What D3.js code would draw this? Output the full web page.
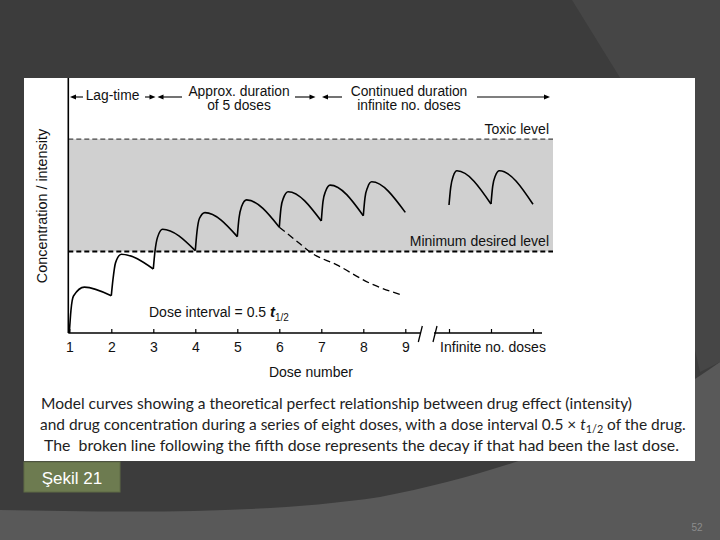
<!DOCTYPE html>
<html>
<head>
<meta charset="utf-8">
<script src="https://cdn.jsdelivr.net/npm/d3@7"></script>
<style>
html, body { margin: 0; padding: 0; background: #3c3c3c; }
svg { display: block; }
</style>
</head>
<body>
<div id="plot"></div>
<script>
// Dose numbers on the x axis
var doseTicks = [1, 2, 3, 4, 5, 6, 7, 8, 9];
// Concentration at the moment of each dose (troughs)
var troughConc = [0, 14.6, 25.1, 32.3, 37.8, 41.5, 43.9, 46.0, 47.3];
// Concentration 0.04 and 0.1 interval after each dose (the steep rise)
var riseConcA = [9, 21, 32, 39.7, 45, 49, 51.5, 53];
var riseConcB = [14.5, 27.5, 37.5, 45, 49.5, 53, 55.5, 57];
// Peak after each dose and when it happens (fraction of an interval)
var peakConc = [18, 30.9, 40.7, 47.2, 52.2, 55.4, 58, 59.3];
var peakAfter = [0.36, 0.24, 0.22, 0.23, 0.22, 0.21, 0.21, 0.2];
// Broken line: decay if the fifth dose had been the last one
var decayDose = [6, 6.5, 6.73, 7.37, 8.16, 8.91];
var decayConc = [41.5, 34.9, 31.8, 26.7, 19.5, 14.9];
// "Infinite no. doses" part of the axis
var infTicks = [0, 1, 2];
var infTrough = [50.2, 50.6, 50.5];
var infRiseA = [57, 57.5];
var infRiseB = [61.5, 61.5];
var infPeak = [63.6, 63.6];
var infPeakAfter = [0.19, 0.2];
// Reference levels
var toxicLevel = 76, minLevel = 32;

var W = 720, H = 540;
var font = "'Liberation Sans', Arial, sans-serif";

var svg = d3.select("div#plot")
    .append("svg")
        .attr("width", W)
        .attr("height", H)
        .attr("viewBox", "0 0 " + W + " " + H);

// Slide background: dark shape over lighter bottom, lighter wedge top right.
svg.append("rect").attr("width", W).attr("height", H).attr("fill", "#595959");
svg.append("path")
    .attr("d", "M0,0 H720 V362 C640,420 520,470 380,497 C260,515 120,512 0,510 Z")
    .attr("fill", "#3c3c3c");
svg.append("path")
    .attr("d", "M572,0 H720 V362 L700,372 L640,110 Z")
    .attr("fill", "#464646");

// White picture panel
svg.append("rect")
    .attr("x", 24).attr("y", 78)
    .attr("width", 671).attr("height", 383)
    .attr("fill", "#ffffff");

var x = d3.scaleLinear().domain([1, 9]).range([69.3, 405.3]);
var xi = d3.scaleLinear().domain([0, 2]).range([449, 533]);
var y = d3.scaleLinear().domain([0, 100]).range([333, 78]);

var axisX = 68.3, plotRight = 553, axisY = y(0);

// Therapeutic band
svg.append("rect")
    .attr("x", axisX)
    .attr("y", y(toxicLevel))
    .attr("width", plotRight - axisX)
    .attr("height", y(minLevel) - y(toxicLevel))
    .attr("fill", "#d0d0d0");

svg.append("line")
    .attr("x1", axisX).attr("x2", plotRight)
    .attr("y1", y(toxicLevel)).attr("y2", y(toxicLevel))
    .attr("stroke", "#444").attr("stroke-width", 1.2)
    .attr("stroke-dasharray", "5,3");
svg.append("line")
    .attr("x1", axisX).attr("x2", plotRight)
    .attr("y1", y(minLevel)).attr("y2", y(minLevel))
    .attr("stroke", "#000").attr("stroke-width", 2)
    .attr("stroke-dasharray", "5,3");

// Curves
var line = d3.line()
    .x(function(d) { return d[0]; })
    .y(function(d) { return y(d[1]); })
    .curve(d3.curveMonotoneX);

var g_curves = svg.append("g").attr("id", "curves");
for (var i = 0; i < peakConc.length; i++) {
    var d0 = doseTicks[i];
    var pts = [
        [x(d0), troughConc[i]],
        [x(d0 + 0.04), riseConcA[i]],
        [x(d0 + 0.1), riseConcB[i]],
        [x(d0 + peakAfter[i]), peakConc[i]],
        [x(d0 + 1), troughConc[i + 1]]
    ];
    g_curves.append("path")
        .attr("d", line(pts))
        .attr("fill", "none")
        .attr("stroke", "#000")
        .attr("stroke-width", 1.6);
}
for (var j = 0; j < infPeak.length; j++) {
    var pts2 = [
        [xi(j), infTrough[j]],
        [xi(j + 0.04), infRiseA[j]],
        [xi(j + 0.1), infRiseB[j]],
        [xi(j + infPeakAfter[j]), infPeak[j]],
        [xi(j + 1), infTrough[j + 1]]
    ];
    g_curves.append("path")
        .attr("d", line(pts2))
        .attr("fill", "none")
        .attr("stroke", "#000")
        .attr("stroke-width", 1.6);
}
g_curves.append("path")
    .attr("d", line(decayDose.map(function(d, k) { return [x(d), decayConc[k]]; })))
    .attr("fill", "none")
    .attr("stroke", "#000")
    .attr("stroke-width", 1.3)
    .attr("stroke-dasharray", "7,4");

// Y axis (no ticks)
svg.append("line")
    .attr("x1", axisX).attr("x2", axisX)
    .attr("y1", y(100)).attr("y2", axisY)
    .attr("stroke", "#000").attr("stroke-width", 1.6);

// X axis, broken before the infinite part
var g_x = svg.append("g")
    .attr("transform", "translate(0, " + axisY + ")")
    .call(d3.axisBottom(x).tickValues(doseTicks)
        .tickSizeInner(-4).tickSizeOuter(0).tickPadding(9));
var g_xi = svg.append("g")
    .attr("transform", "translate(0, " + axisY + ")")
    .call(d3.axisBottom(xi).tickValues(infTicks).tickFormat("")
        .tickSizeInner(-4).tickSizeOuter(0));
[g_x, g_xi].forEach(function(g) {
    g.select(".domain").remove();
    g.selectAll(".tick line").attr("stroke", "#000").attr("stroke-width", 1.2);
    g.selectAll(".tick text")
        .attr("font-family", font).attr("font-size", 14).attr("fill", "#111");
});
svg.append("line")
    .attr("x1", axisX).attr("x2", x(9) + 15)
    .attr("y1", axisY).attr("y2", axisY)
    .attr("stroke", "#000").attr("stroke-width", 1.6);
svg.append("line")
    .attr("x1", xi(0) - 15).attr("x2", xi(2) + 9)
    .attr("y1", axisY).attr("y2", axisY)
    .attr("stroke", "#000").attr("stroke-width", 1.6);
[x(9) + 15, xi(0) - 14].forEach(function(bx) {
    svg.append("line")
        .attr("x1", bx - 2).attr("y1", axisY + 9)
        .attr("x2", bx + 2).attr("y2", axisY - 7)
        .attr("stroke", "#000").attr("stroke-width", 1.3);
});

// Texts
function label(tx, ty, str, size, anchor) {
    return svg.append("text")
        .attr("x", tx).attr("y", ty)
        .attr("font-family", font)
        .attr("font-size", size)
        .attr("fill", "#111")
        .attr("text-anchor", anchor || "middle")
        .text(str);
}

label(311, 377, "Dose number", 14);
label(493, 352, "Infinite no. doses", 14);
label(549, 134, "Toxic level", 14, "end");
label(549, 246, "Minimum desired level", 14, "end");
svg.append("text")
    .attr("transform", "translate(47, 206) rotate(-90)")
    .attr("font-family", font).attr("font-size", 14.4).attr("fill", "#111")
    .attr("text-anchor", "middle")
    .text("Concentration / intensity");

var di = label(149, 317, "Dose interval = 0.5 ", 14, "start");
di.append("tspan").attr("font-style", "italic").attr("font-weight", "bold")
    .attr("font-size", 15).text("t");
di.append("tspan").attr("font-size", 10).attr("dy", 4).text("1/2");

// Top annotations with arrows
label(112.5, 100, "Lag-time", 13.8);
label(239, 96, "Approx. duration", 13.8);
label(239, 109.5, "of 5 doses", 13.8);
label(409, 96, "Continued duration", 13.8);
label(409, 110, "infinite no. doses", 13.8);

var arrowY = 97;
function arrow(from, to) {
    var dir = to > from ? 1 : -1;
    svg.append("line")
        .attr("x1", from).attr("x2", to - dir * 4)
        .attr("y1", arrowY).attr("y2", arrowY)
        .attr("stroke", "#000").attr("stroke-width", 1.1);
    svg.append("path")
        .attr("d", "M" + to + "," + arrowY +
            " L" + (to - dir * 6) + "," + (arrowY - 2.6) +
            " L" + (to - dir * 6) + "," + (arrowY + 2.6) + " Z")
        .attr("fill", "#000");
}
arrow(83, 70);
arrow(145, 155.5);
arrow(182, 157.5);
arrow(295, 315.5);
arrow(342, 322);
arrow(477, 550);

// Caption under the figure
var capFont = "Lato, 'Liberation Sans', sans-serif";
function caption(tx, ty, str, size, len) {
    var t = svg.append("text")
        .attr("x", tx).attr("y", ty)
        .attr("font-family", capFont)
        .attr("font-size", size)
        .attr("fill", "#222")
        .attr("xml:space", "preserve")
        .text(str);
    if (len) t.attr("textLength", len).attr("lengthAdjust", "spacingAndGlyphs");
    return t;
}
caption(41, 409, "Model curves showing a theoretical perfect relationship between drug effect (intensity)", 15, 591);
caption(44, 451, "The  broken line following the fifth dose represents the decay if that had been the last dose.", 15, 635);

// Second caption line is laid out piece by piece so the t1/2 fits in.
var line2 = [
    {s: "and drug concentration during a series of eight doses, with a dose interval 0.5 \u00d7 ", k: 1, dy: 0},
    {s: "t", k: 1, dy: 0, it: true},
    {s: "1/2", k: 0.7, dy: 3},
    {s: " of the drug.", k: 1, dy: 0}
];
var line2Start = 40, line2End = 686, base = 15;
function layoutLine2(size) {
    svg.selectAll("text.cap2").remove();
    var cx = line2Start;
    line2.forEach(function(p) {
        var t = caption(cx, 430 + p.dy, p.s, size * p.k).attr("class", "cap2");
        if (p.it) t.attr("font-style", "italic");
        cx += t.node().getComputedTextLength();
    });
    return cx - line2Start;
}
var w2 = layoutLine2(base);
layoutLine2(base * (line2End - line2Start) / w2);

// Slide label and page number
svg.append("rect")
    .attr("x", 24).attr("y", 462)
    .attr("width", 96).attr("height", 30)
    .attr("fill", "#6d7b50")
    .attr("stroke", "#5e6b45").attr("stroke-width", 1);
svg.append("text")
    .attr("x", 72).attr("y", 484)
    .attr("font-family", font).attr("font-size", 17)
    .attr("fill", "#ffffff").attr("text-anchor", "middle")
    .text("Şekil 21");
svg.append("text")
    .attr("x", 697).attr("y", 531)
    .attr("font-family", font).attr("font-size", 10)
    .attr("fill", "#8c8c8c").attr("text-anchor", "middle")
    .text("52");
</script>
</body>
</html>
